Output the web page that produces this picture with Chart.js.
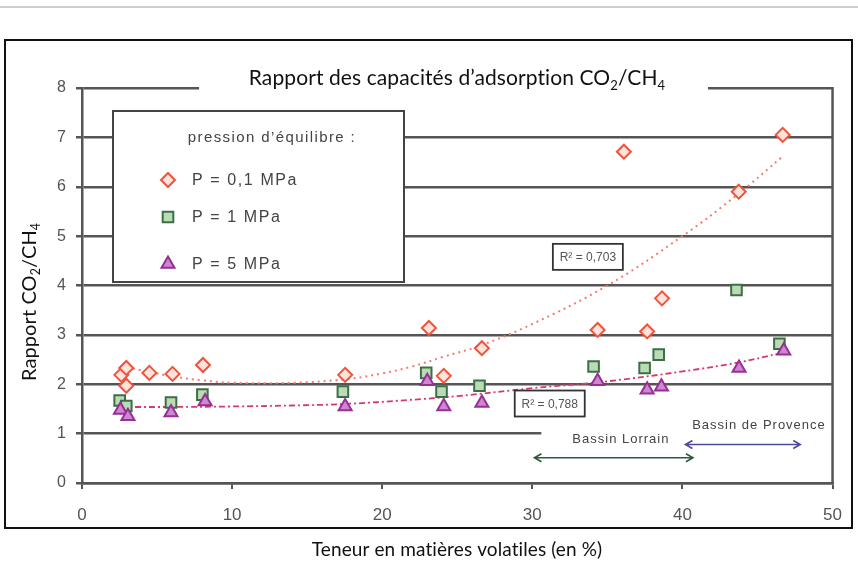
<!DOCTYPE html>
<html>
<head>
<meta charset="utf-8">
<script src="https://cdn.jsdelivr.net/npm/chart.js@4.4.1/dist/chart.umd.min.js"></script>
<style>
  html, body { margin: 0; padding: 0; background: #fff; }
  canvas { display: block; }
</style>
</head>
<body>
<canvas id="chart" width="858" height="564"></canvas>
<script>
// P = 0,1 MPa
var p01X = [2.62, 2.95, 2.95, 4.49, 6.03, 8.06, 17.53, 23.11, 24.1, 26.64, 34.35, 36.1, 37.65, 38.64, 43.75, 46.68];
var p01Y = [2.19, 2.33, 1.97, 2.23, 2.21, 2.39, 2.19, 3.14, 2.17, 2.73, 3.10, 6.71, 3.07, 3.74, 5.90, 7.05];
// P = 1 MPa
var p1X = [2.51, 2.95, 5.93, 8.02, 17.38, 22.93, 23.95, 26.48, 34.08, 37.48, 38.42, 43.6, 46.46];
var p1Y = [1.67, 1.56, 1.63, 1.79, 1.85, 2.23, 1.85, 1.97, 2.36, 2.33, 2.60, 3.91, 2.82];
// P = 5 MPa
var p5X = [2.56, 3.06, 5.93, 8.2, 17.53, 23.0, 24.1, 26.64, 34.35, 37.65, 38.6, 43.77, 46.75];
var p5Y = [1.48, 1.35, 1.43, 1.65, 1.55, 2.06, 1.55, 1.62, 2.06, 1.89, 1.95, 2.33, 2.68];

// courbes de tendance
var trendHiX = [2.6, 4.5, 6, 8, 10, 14, 17.5, 20, 22, 24, 26.5, 30, 35, 40, 43.7, 46.7];
var trendHiY = [2.36, 2.25, 2.16, 2.08, 2.03, 2.03, 2.10, 2.22, 2.36, 2.55, 2.78, 3.22, 4.00, 5.00, 5.85, 6.62];
var trendLoX = [2.6, 6, 10, 14, 17.5, 21.7, 25, 30, 35, 40, 43.7, 46.7];
var trendLoY = [1.54, 1.54, 1.55, 1.57, 1.60, 1.68, 1.76, 1.92, 2.06, 2.26, 2.44, 2.64];

var xTicks = [0, 10, 20, 30, 40, 50];
var yTicks = [0, 1, 2, 3, 4, 5, 6, 7, 8];

var seriesNames = ['P = 0,1 MPa', 'P = 1 MPa', 'P = 5 MPa'];
var r2Labels = ['R² = 0,703', 'R² = 0,788'];

function pts(xs, ys) {
    return xs.map(function (x, i) { return { x: x, y: ys[i] }; });
}

// texte avec indices (CO2/CH4)
function richText(ctx, parts, x, y, size, align) {
    ctx.letterSpacing = '0.1px'; // évite la ligature "ti"
    var w = 0;
    parts.forEach(function (p) {
        ctx.font = (p[1] ? size * 0.62 : size) + 'px Lato';
        w += ctx.measureText(p[0]).width;
    });
    var cx = align === 'center' ? x - w / 2 : x;
    ctx.textAlign = 'left';
    ctx.textBaseline = 'alphabetic';
    parts.forEach(function (p) {
        ctx.font = (p[1] ? size * 0.62 : size) + 'px Lato';
        ctx.fillText(p[0], cx, y + (p[1] === 'sub' ? size * 0.22 : 0));
        cx += ctx.measureText(p[0]).width;
    });
    ctx.letterSpacing = '0px';
}

function arrow(ctx, x1, x2, y, color) {
    ctx.strokeStyle = color;
    ctx.lineWidth = 1.6;
    ctx.beginPath();
    ctx.moveTo(x1, y); ctx.lineTo(x2, y);
    ctx.moveTo(x1 + 7, y - 4); ctx.lineTo(x1, y); ctx.lineTo(x1 + 7, y + 4);
    ctx.moveTo(x2 - 7, y - 4); ctx.lineTo(x2, y); ctx.lineTo(x2 - 7, y + 4);
    ctx.stroke();
}

var markerStyles = [
    { pointStyle: 'rectRot', radius: 7, border: '#f0533c', fill: '#fde3dc' },
    { pointStyle: 'rect', radius: 7.5, border: '#3e6e47', fill: '#b9dcb4' },
    { pointStyle: 'triangle', radius: 7.5, border: '#962f96', fill: '#cf86d0' }
];

var decor = {
    id: 'decor',
    beforeDatasetsDraw: function (chart) {
        var ctx = chart.ctx, xs = chart.scales.x, ys = chart.scales.y;
        ctx.save();
        // coupures des lignes 8 et 1
        ctx.fillStyle = '#fff';
        var y8 = ys.getPixelForValue(8), y1 = ys.getPixelForValue(1);
        var a = xs.getPixelForValue(7.8), b = xs.getPixelForValue(41.7);
        ctx.fillRect(a, y8 - 4, b - a, 8);
        var c = xs.getPixelForValue(30.6);
        ctx.fillRect(c, y1 - 4, xs.right - c + 4, 8);
        // bord droit
        ctx.strokeStyle = '#555';
        ctx.lineWidth = 2.5;
        ctx.beginPath();
        ctx.moveTo(xs.right, ys.top - 1);
        ctx.lineTo(xs.right, ys.bottom);
        ctx.stroke();

        // légende
        ctx.fillStyle = '#fff';
        ctx.fillRect(113, 111, 291, 171);
        ctx.strokeStyle = '#444';
        ctx.lineWidth = 2;
        ctx.strokeRect(113, 111, 291, 171);
        ctx.fillStyle = '#444';
        ctx.font = '15px "Liberation Sans"';
        ctx.letterSpacing = '1.4px';
        ctx.textAlign = 'center';
        ctx.textBaseline = 'middle';
        ctx.fillText('pression d\u2019\u00e9quilibre :', 272, 138);
        var rows = [180, 217, 264];
        ctx.font = '16px "Liberation Sans"';
        ctx.letterSpacing = '1.6px';
        ctx.textAlign = 'left';
        rows.forEach(function (ry, i) {
            var m = markerStyles[i];
            ctx.fillStyle = m.fill;
            ctx.strokeStyle = m.border;
            ctx.lineWidth = 2;
            Chart.helpers.drawPoint(ctx, { pointStyle: m.pointStyle, radius: m.radius, borderWidth: 2, rotation: 0 }, 168, ry);
            ctx.fillStyle = '#444';
            ctx.fillText(seriesNames[i], 192, ry + 1);
        });
        ctx.letterSpacing = '0px';
        ctx.restore();
    },
    afterDatasetsDraw: function (chart) {
        var ctx = chart.ctx, xs = chart.scales.x, ys = chart.scales.y;
        ctx.save();
        // boîtes R²
        [[33.7, 4.58], [31.16, 1.61]].forEach(function (p, i) {
            var cx = xs.getPixelForValue(p[0]), cy = ys.getPixelForValue(p[1]);
            ctx.fillStyle = '#fff';
            ctx.fillRect(cx - 35, cy - 13, 70, 26);
            ctx.strokeStyle = '#333';
            ctx.lineWidth = 1.8;
            ctx.strokeRect(cx - 35, cy - 13, 70, 26);
            ctx.fillStyle = '#555';
            ctx.font = '12px "Liberation Sans"';
            ctx.textAlign = 'center';
            ctx.textBaseline = 'middle';
            ctx.fillText(r2Labels[i], cx, cy + 1);
        });
        // bassins
        ctx.font = '13px "Liberation Sans"';
        ctx.letterSpacing = '1px';
        ctx.fillStyle = '#444';
        ctx.textAlign = 'center';
        ctx.textBaseline = 'middle';
        ctx.fillText('Bassin Lorrain', xs.getPixelForValue(35.9), ys.getPixelForValue(0.88));
        ctx.fillText('Bassin de Provence', xs.getPixelForValue(45.1), ys.getPixelForValue(1.16));
        ctx.letterSpacing = '0px';
        arrow(ctx, xs.getPixelForValue(30.14), xs.getPixelForValue(40.7), ys.getPixelForValue(0.51), '#2f5a3a');
        arrow(ctx, xs.getPixelForValue(40.2), xs.getPixelForValue(47.85), ys.getPixelForValue(0.78), '#4b4b9a');
        ctx.restore();
    },
    afterDraw: function (chart) {
        var ctx = chart.ctx;
        ctx.save();
        // ligne grise en haut et cadre
        ctx.strokeStyle = '#cfcfcf';
        ctx.lineWidth = 2;
        ctx.beginPath(); ctx.moveTo(0, 7); ctx.lineTo(858, 7); ctx.stroke();
        ctx.strokeStyle = '#111';
        ctx.lineWidth = 2;
        ctx.strokeRect(5, 40, 847, 488);
        // titres
        ctx.fillStyle = '#111';
        richText(ctx, [['Rapport des capacit\u00e9s d\u2019adsorption CO'], ['2', 'sub'], ['/CH'], ['4', 'sub']], 457, 85, 21, 'center');
        richText(ctx, [['Teneur en mati\u00e8res volatiles (en %)']], 457, 556, 19, 'center');
        ctx.translate(29, 302);
        ctx.rotate(-Math.PI / 2);
        richText(ctx, [['Rapport CO'], ['2', 'sub'], ['/CH'], ['4', 'sub']], 0, 7, 20, 'center');
        ctx.restore();
    }
};

var ctx = document.getElementById('chart').getContext('2d');
new Chart(ctx, {
    type: 'scatter',
    data: {
        datasets: [{
            label: seriesNames[0],
            data: pts(p01X, p01Y),
            pointStyle: 'rectRot', pointRadius: 7, pointBorderWidth: 2,
            borderColor: markerStyles[0].border, backgroundColor: markerStyles[0].fill,
            order: 1
        }, {
            label: seriesNames[1],
            data: pts(p1X, p1Y),
            pointStyle: 'rect', pointRadius: 7.5, pointBorderWidth: 2,
            borderColor: markerStyles[1].border, backgroundColor: markerStyles[1].fill,
            order: 3
        }, {
            label: seriesNames[2],
            data: pts(p5X, p5Y),
            pointStyle: 'triangle', pointRadius: 7.5, pointBorderWidth: 2,
            borderColor: markerStyles[2].border, backgroundColor: markerStyles[2].fill,
            order: 2
        }, {
            label: 'tendance 0,1 MPa',
            data: pts(trendHiX, trendHiY),
            showLine: true, pointRadius: 0, borderWidth: 2, tension: 0.4,
            borderColor: '#f47b70', borderDash: [2, 4],
            order: 10
        }, {
            label: 'tendance 5 MPa',
            data: pts(trendLoX, trendLoY),
            showLine: true, pointRadius: 0, borderWidth: 1.8, tension: 0.4,
            borderColor: '#d9386a', borderDash: [6, 3, 2, 3],
            order: 11
        }]
    },
    options: {
        responsive: false,
        animation: false,
        layout: { padding: { top: 88, right: 19, bottom: 0, left: 0 } },
        plugins: {
            legend: { display: false },
            tooltip: { enabled: false }
        },
        scales: {
            x: {
                type: 'linear',
                min: 0, max: 50,
                afterBuildTicks: function (s) { s.ticks = xTicks.map(function (v) { return { value: v }; }); },
                afterFit: function (s) { s.height = 81; },
                grid: { drawOnChartArea: false, drawTicks: true, tickLength: 6, color: '#555', lineWidth: 2 },
                border: { display: true, color: '#555', width: 2.5 },
                ticks: { padding: 16, color: '#555', font: { family: 'Liberation Sans', size: 17 } }
            },
            y: {
                type: 'linear',
                min: 0, max: 8,
                afterBuildTicks: function (s) { s.ticks = yTicks.map(function (v) { return { value: v }; }); },
                afterFit: function (s) { s.width = 82; },
                grid: { drawOnChartArea: true, drawTicks: true, tickLength: 6, color: '#555', lineWidth: 2.5 },
                border: { display: true, color: '#555', width: 2.5 },
                ticks: { padding: 10, color: '#555', font: { family: 'Liberation Sans', size: 16 } }
            }
        }
    },
    plugins: [decor]
});
</script>
</body>
</html>
